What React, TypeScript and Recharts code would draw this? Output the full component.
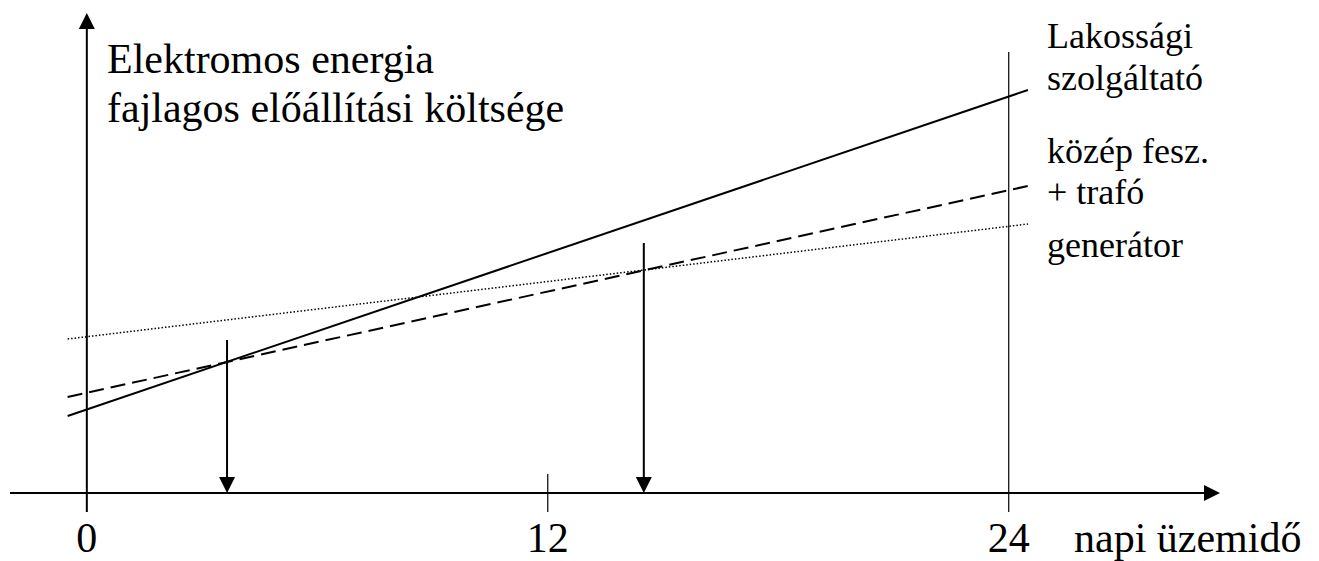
import React from "react";
import { LineChart, Line, XAxis, YAxis, ReferenceLine } from "recharts";

// hours where the three cost lines start and end
const hours = [-0.5, 24.5];

// specific cost at those hours for each supply level
const lakossagi = [19.25, 100.75];
const kozepFesz = [24, 76.75];
const generator = [38.5, 67.25];

const xTicks = [0, 12, 24];

// break-even points marked by the down arrows
const arrowHours = [3.65, 14.5];
const arrowTops = [38.25, 62.5];

const serif = '"Liberation Serif", "Times New Roman", Times, "DejaVu Serif", serif';
const textStyle = { fontFamily: serif };

const data = hours.map((h, i) => ({
  x: h,
  lakossagi: lakossagi[i],
  kozep: kozepFesz[i],
  generator: generator[i],
}));

// line with a filled triangular head at its (x2, y2) end
function ArrowLine(props: any) {
  const { x1, y1, x2, y2, width = 2 } = props;
  if ([x1, y1, x2, y2].some((v) => v == null || isNaN(v))) return null;
  const len = Math.hypot(x2 - x1, y2 - y1) || 1;
  const dx = (x2 - x1) / len;
  const dy = (y2 - y1) / len;
  const head = 16;
  const half = 8;
  const bx = x2 - dx * head;
  const by = y2 - dy * head;
  const pts = [
    [x2, y2],
    [bx - dy * half, by + dx * half],
    [bx + dy * half, by - dx * half],
  ]
    .map((p) => p.join(","))
    .join(" ");
  return (
    <g>
      <line x1={x1} y1={y1} x2={bx} y2={by} stroke="#000" strokeWidth={width} />
      <polygon points={pts} fill="#000" />
    </g>
  );
}

function HourTick(props: any) {
  const { x, y, payload } = props;
  return (
    <text x={x} y={y} dy={59} textAnchor="middle" style={textStyle} fontSize={42} fill="#000">
      {payload.value}
    </text>
  );
}

export default function App() {
  return (
    <div
      style={{
        position: "absolute",
        left: 0,
        top: 0,
        width: 1319,
        height: 561,
        background: "#fff",
        fontFamily: serif,
      }}
    >
      <LineChart
        width={1319}
        height={561}
        data={data}
        margin={{ top: 13, right: 99, left: 10, bottom: 0 }}
        style={textStyle}
      >
        <XAxis
          dataKey="x"
          type="number"
          domain={[-2, 29.5]}
          ticks={xTicks}
          height={68}
          axisLine={false}
          tickLine={false}
          tickSize={0}
          tickMargin={0}
          tick={<HourTick />}
        />
        <YAxis hide type="number" domain={[0, 120]} />

        {/* axes with arrow heads */}
        <ReferenceLine
          segment={[{ x: -2, y: 0 }, { x: 29.5, y: 0 }]}
          ifOverflow="visible"
          shape={(p: any) => <ArrowLine {...p} />}
        />
        <ReferenceLine
          segment={[{ x: 0, y: -4.75 }, { x: 0, y: 120 }]}
          ifOverflow="visible"
          shape={(p: any) => <ArrowLine {...p} />}
        />
        <ReferenceLine
          segment={[{ x: 12, y: -4.75 }, { x: 12, y: 4.75 }]}
          ifOverflow="visible"
          stroke="#000"
          strokeWidth={1.2}
        />
        <ReferenceLine
          segment={[{ x: 24, y: -4.75 }, { x: 24, y: 110.25 }]}
          ifOverflow="visible"
          stroke="#000"
          strokeWidth={1.2}
        />
        {arrowHours.map((h, i) => (
          <ReferenceLine
            key={h}
            segment={[{ x: h, y: arrowTops[i] }, { x: h, y: 0 }]}
            ifOverflow="visible"
            shape={(p: any) => <ArrowLine {...p} />}
          />
        ))}

        <Line
          type="linear"
          dataKey="generator"
          stroke="#000"
          strokeWidth={1.5}
          strokeDasharray="1.5 2"
          dot={false}
          activeDot={false}
          isAnimationActive={false}
        />
        <Line
          type="linear"
          dataKey="kozep"
          stroke="#000"
          strokeWidth={2}
          strokeDasharray="15 7"
          dot={false}
          activeDot={false}
          isAnimationActive={false}
        />
        <Line
          type="linear"
          dataKey="lakossagi"
          stroke="#000"
          strokeWidth={2}
          dot={false}
          activeDot={false}
          isAnimationActive={false}
        />
      </LineChart>

      {/* titles and series names */}
      <svg
        width={1319}
        height={561}
        style={{ position: "absolute", left: 0, top: 0, pointerEvents: "none", ...textStyle }}
        fill="#000"
      >
        <text x={107} y={73} fontSize={42}>Elektromos energia</text>
        <text x={107} y={122} fontSize={42}>fajlagos előállítási költsége</text>
        <text x={1047} y={48} fontSize={36}>Lakossági</text>
        <text x={1047} y={90} fontSize={36}>szolgáltató</text>
        <text x={1047} y={163} fontSize={36}>közép fesz.</text>
        <text x={1047} y={204} fontSize={36}>+ trafó</text>
        <text x={1047} y={257} fontSize={36}>generátor</text>
        <text x={1074} y={552} fontSize={42}>napi üzemidő</text>
      </svg>
    </div>
  );
}
